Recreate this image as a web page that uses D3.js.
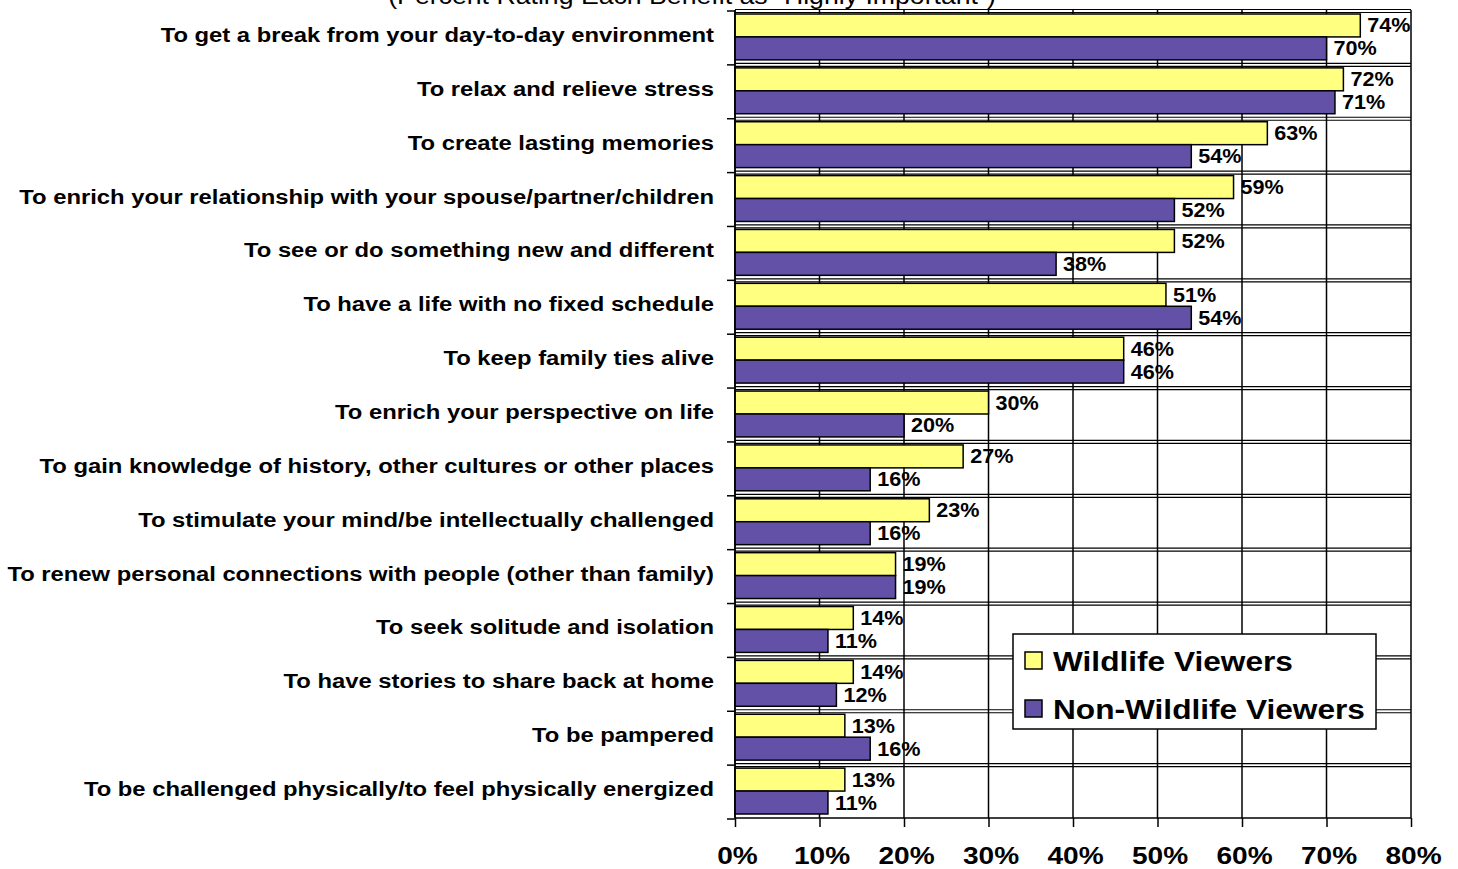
<!DOCTYPE html>
<html>
<head>
<meta charset="utf-8">
<script src="https://cdn.jsdelivr.net/npm/d3@7"></script>
<style>
  html, body { margin: 0; padding: 0; background: #fff; }
  svg { display: block; font-family: "Liberation Sans", Arial, Helvetica, sans-serif; }
</style>
</head>
<body>
<svg id="chart" width="1458" height="869"></svg>
<script>
const categories = [
  "To get a break from your day-to-day environment",
  "To relax and relieve stress",
  "To create lasting memories",
  "To enrich your relationship with your spouse/partner/children",
  "To see or do something new and different",
  "To have a life with no fixed schedule",
  "To keep family ties alive",
  "To enrich your perspective on life",
  "To gain knowledge of history, other cultures or other places",
  "To stimulate your mind/be intellectually challenged",
  "To renew personal connections with people (other than family)",
  "To seek solitude and isolation",
  "To have stories to share back at home",
  "To be pampered",
  "To be challenged physically/to feel physically energized"
];
const wildlifeViewers    = [74, 72, 63, 59, 52, 51, 46, 30, 27, 23, 19, 14, 14, 13, 13];
const nonWildlifeViewers = [70, 71, 54, 52, 38, 54, 46, 20, 16, 16, 19, 11, 12, 16, 11];
const seriesNames = ["Wildlife Viewers", "Non-Wildlife Viewers"];
const seriesColors = ["#FFFF80", "#6351A8"];
const tickValues = [0, 10, 20, 30, 40, 50, 60, 70, 80];
const titleText = "(Percent Rating Each Benefit as \u201CHighly Important\u201D)";

const svg = d3.select("#chart");
const x = d3.scaleLinear().domain([0, 80]).range([735, 1411]);
const y = d3.scaleBand().domain(categories).range([10, 818]).padding(0);
const sub = d3.scaleBand().domain([0, 1]).range([4, y.bandwidth() - 4]).padding(0);

// place a text at (px,py) with horizontal stretch sx
function stretched(sel, px, py, sx) {
  return sel.attr("x", 0).attr("y", 0)
    .attr("transform", (d, i) => `translate(${typeof px === "function" ? px(d, i) : px},${typeof py === "function" ? py(d, i) : py}) scale(${sx},1)`);
}

// title (mostly cut off at top, as in the reference)
stretched(svg.append("text"), 692, 4, 1.16)
  .attr("text-anchor", "middle")
  .attr("font-size", 23)
  .attr("fill", "#000")
  .text(titleText);

// vertical gridlines
svg.append("g").selectAll("line").data(tickValues).join("line")
  .attr("x1", d => x(d)).attr("x2", d => x(d))
  .attr("y1", 10).attr("y2", 818)
  .attr("stroke", "#000").attr("stroke-width", 1.5);

// horizontal gridlines (band boundaries) – drawn double as in reference
const bounds = categories.map(c => y(c)).concat([y.range()[1]]);
const hg = svg.append("g");
bounds.forEach((b, i) => {
  if (i === bounds.length - 1) return;
  hg.append("line").attr("x1", 735).attr("x2", 1411).attr("y1", b - 0.5).attr("y2", b - 0.5)
    .attr("stroke", "#000").attr("stroke-width", 1.2);
  hg.append("line").attr("x1", 735).attr("x2", 1411).attr("y1", b + 2.5).attr("y2", b + 2.5)
    .attr("stroke", "#000").attr("stroke-width", 1.2);
});

// bars
const series = [wildlifeViewers, nonWildlifeViewers];
series.forEach((vals, si) => {
  svg.append("g").selectAll("rect").data(vals).join("rect")
    .attr("x", x(0))
    .attr("y", (d, i) => y(categories[i]) + sub(si))
    .attr("width", d => x(d) - x(0))
    .attr("height", sub.bandwidth())
    .attr("fill", seriesColors[si])
    .attr("stroke", "#000").attr("stroke-width", 1.5);
});

// value labels
series.forEach((vals, si) => {
  const t = svg.append("g").selectAll("text").data(vals).join("text")
    .attr("font-size", 20).attr("font-weight", "bold")
    .attr("fill", "#000")
    .text(d => d + "%");
  stretched(t, d => x(d) + 7, (d, i) => y(categories[i]) + sub(si) + sub.bandwidth() / 2 + 7, 1.08);
});

// x axis
const xAxis = d3.axisBottom(x).tickValues(tickValues).tickSize(9).tickPadding(18)
  .tickFormat(d => d + "%");
const gx = svg.append("g").attr("transform", "translate(0,818)").call(xAxis);
gx.select(".domain").attr("stroke", "#000").attr("stroke-width", 1.5).attr("d", "M735,0H1411");
gx.selectAll(".tick line").attr("stroke", "#000").attr("stroke-width", 1.5);
const xt = gx.selectAll(".tick text")
  .attr("font-size", 24).attr("font-weight", "bold").attr("fill", "#000")
  .attr("font-family", "\"Liberation Sans\", Arial, sans-serif")
  .attr("dy", null);
stretched(xt, 2, 46, 1.17);

// y axis
const yAxis = d3.axisLeft(y).tickSize(0).tickPadding(21);
const gy = svg.append("g").attr("transform", "translate(735,0)").call(yAxis);
gy.select(".domain").attr("stroke", "#000").attr("stroke-width", 1.5).attr("d", "M0,10V818");
const yt = gy.selectAll(".tick text")
  .attr("font-size", 20).attr("font-weight", "bold").attr("fill", "#000")
  .attr("font-family", "\"Liberation Sans\", Arial, sans-serif")
  .attr("dy", null);
stretched(yt, -21, 5, 1.19);

// left tick marks at band boundaries
svg.append("g").selectAll("line").data(bounds).join("line")
  .attr("x1", 727).attr("x2", 735)
  .attr("y1", d => d + 1).attr("y2", d => d + 1)
  .attr("stroke", "#000").attr("stroke-width", 1.5);

// legend
const lg = svg.append("g");
lg.append("rect").attr("x", 1013).attr("y", 634).attr("width", 363).attr("height", 95)
  .attr("fill", "#fff").attr("stroke", "#000").attr("stroke-width", 1.5);
seriesNames.forEach((name, i) => {
  lg.append("rect").attr("x", 1025).attr("y", 652 + i * 48).attr("width", 17).attr("height", 17)
    .attr("fill", seriesColors[i]).attr("stroke", "#000").attr("stroke-width", 1.5);
  stretched(lg.append("text"), 1053, 671 + i * 48, 1.13)
    .attr("font-size", 28).attr("font-weight", "bold").attr("fill", "#000")
    .text(name);
});
</script>
</body>
</html>
